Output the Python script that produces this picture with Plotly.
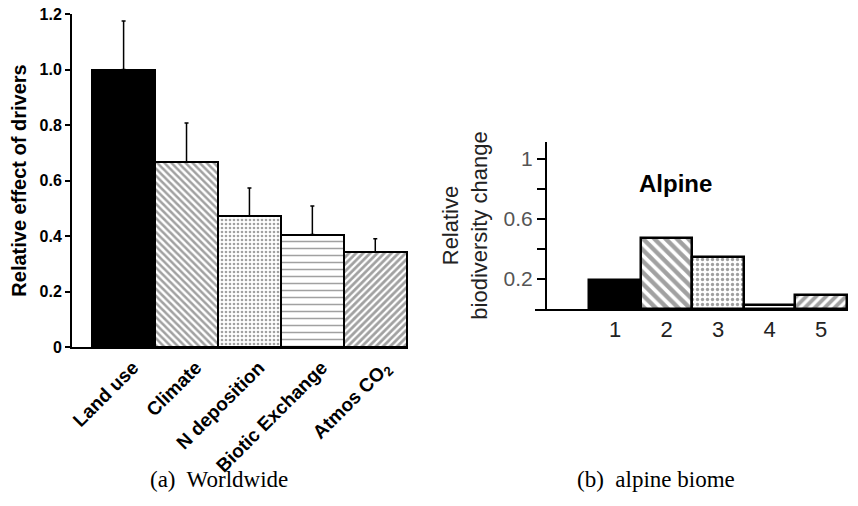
import plotly.graph_objects as go

# ---- data: panel (a) worldwide ----
drivers = ["Land use", "Climate", "N deposition", "Biotic Exchange", "Atmos CO<sub>2</sub>"]
effect = [1.0, 0.667, 0.472, 0.405, 0.341]
effect_err = [0.175, 0.14, 0.101, 0.103, 0.049]
left_yticks = [0, 0.2, 0.4, 0.6, 0.8, 1.0, 1.2]
left_yticklabels = ["0", "0.2", "0.4", "0.6", "0.8", "1.0", "1.2"]

# ---- data: panel (b) alpine biome ----
alpine_idx = [1, 2, 3, 4, 5]
alpine_change = [0.195, 0.473, 0.347, 0.025, 0.093]
right_xtick_labels = ["1", "2", "3", "4", "5"]
right_yticks = [0.2, 0.4, 0.6, 0.8, 1.0]
right_yticklabels = ["0.2", "", "0.6", "", "1"]

patterns_a = ["", "\\", ".", "-", "/"]
patterns_b = ["", "\\", ".", "", "/"]
fills_a = ["black", "white", "white", "white", "white"]
fills_b = ["black", "white", "white", "white", "white"]

SANS = "Liberation Sans"
W, H = 858, 506

xpos_a = list(range(len(drivers)))

fig = go.Figure()

fig.add_trace(go.Bar(
    x=xpos_a, y=effect, width=1.0,
    marker=dict(
        color=fills_a,
        line=dict(color="black", width=2),
        pattern=dict(shape=patterns_a, fgcolor="black", bgcolor=fills_a,
                     size=[6, 5, 4, 7, 5], solidity=[0.3, 0.5, 0.35, 0.22, 0.55]),
    ),
    error_y=dict(type="data", symmetric=False, array=effect_err,
                 arrayminus=[0] * len(effect_err), color="black",
                 thickness=1.5, width=2),
    xaxis="x", yaxis="y", showlegend=False,
))

fig.add_trace(go.Bar(
    x=alpine_idx, y=alpine_change, width=1.0,
    marker=dict(
        color=fills_b,
        line=dict(color="black", width=2.5),
        pattern=dict(shape=patterns_b, fgcolor="black", bgcolor=fills_b,
                     size=[6, 8, 5, 6, 7], solidity=[0.3, 0.55, 0.35, 0.3, 0.55]),
    ),
    xaxis="x2", yaxis="y2", showlegend=False,
))

fig.update_layout(
    width=W, height=H,
    margin=dict(l=0, r=0, t=0, b=0, autoexpand=False),
    paper_bgcolor="white", plot_bgcolor="white",
    bargap=0,
    xaxis=dict(
        domain=[72 / W, 408 / W], range=[-0.82, 4.52],
        tickvals=[p + 0.15 for p in xpos_a], ticktext=drivers,
        showline=True, linecolor="black", linewidth=2,
        ticks="", tickangle=-45, showgrid=False, zeroline=False,
        tickfont=dict(family=SANS, size=19, color="black", weight="bold"),
        anchor="y", automargin=False,
    ),
    yaxis=dict(
        domain=[(H - 347) / H, (H - 14) / H], range=[0, 1.2],
        tickvals=left_yticks, ticktext=left_yticklabels,
        showline=True, linecolor="black", linewidth=2,
        ticks="outside", ticklen=5, tickwidth=2, tickcolor="black",
        showgrid=False, zeroline=False,
        tickfont=dict(family=SANS, size=16, color="black", weight="bold"),
        title=dict(text="Relative effect of drivers", standoff=8,
                   font=dict(family=SANS, size=20, color="black", weight="bold")),
        anchor="x", automargin=False,
    ),
    xaxis2=dict(
        domain=[535 / W, 848 / W], range=[-0.553, 5.52],
        tickvals=alpine_idx, ticktext=right_xtick_labels,
        showline=True, linecolor="black", linewidth=2,
        ticks="", showgrid=False, zeroline=False,
        tickfont=dict(family=SANS, size=22, color="#222"),
        anchor="y2", automargin=False,
    ),
    yaxis2=dict(
        domain=[(H - 309) / H, (H - 142) / H], range=[0, 1.113],
        tickvals=right_yticks, ticktext=right_yticklabels,
        showline=True, linecolor="black", linewidth=2,
        ticks="outside", ticklen=8, tickwidth=2, tickcolor="black",
        showgrid=False, zeroline=False,
        tickfont=dict(family=SANS, size=21, color="#555"),
        title=dict(text="Relative<br>biodiversity change", standoff=9,
                   font=dict(family=SANS, size=22, color="#222")),
        anchor="free", position=546 / W, automargin=False,
    ),
    annotations=[
        dict(text="Alpine", x=714 / W, y=(H - 168) / H, xref="paper", yref="paper",
             showarrow=False, font=dict(family=SANS, size=24, color="black", weight="bold")),
        dict(text="(a)  Worldwide", x=148 / W, y=(H - 494) / H, xref="paper", yref="paper",
             xanchor="left", showarrow=False,
             font=dict(family="Liberation Serif", size=23, color="black")),
        dict(text="(b)  alpine biome", x=575 / W, y=(H - 494) / H, xref="paper", yref="paper",
             xanchor="left", showarrow=False,
             font=dict(family="Liberation Serif", size=23, color="black")),
    ],
)

fig.write_html("out.html")
